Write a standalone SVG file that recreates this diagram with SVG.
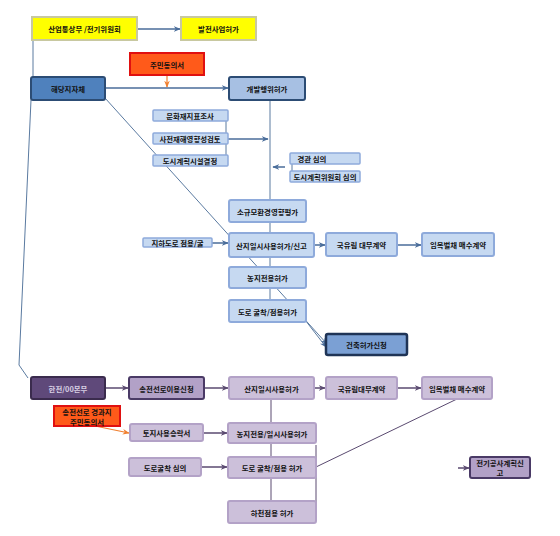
<svg xmlns="http://www.w3.org/2000/svg" width="560" height="536" viewBox="0 0 560 536">
<defs>
<style>
text{font-family:"Noto Sans CJK KR","Noto Sans",sans-serif;font-size:7.4px;font-weight:bold;fill:#111;text-anchor:middle;dominant-baseline:central}
.yel{fill:#ffff00;stroke:#c8c8a0;stroke-width:2}
.org{fill:#ff5a1a;stroke:#e01010;stroke-width:2}
.lb{fill:#c6d9f1;stroke:#8eaadb;stroke-width:2}
.sb{fill:#c6d9f1;stroke:#8eaadb;stroke-width:1.5}
.db{fill:#4f81bd;stroke:#2c4c74;stroke-width:2}
.mb{fill:#a7c0e3;stroke:#2c4c74;stroke-width:2}
.bb{fill:#7ba0d4;stroke:#1f3456;stroke-width:2.5}
.lp{fill:#ccc0da;stroke:#b3a2c7;stroke-width:2}
.mp{fill:#b2a1c7;stroke:#4a3a66;stroke-width:2}
.dp{fill:#5f497a;stroke:#3a2b4d;stroke-width:2}
.ln{fill:none;stroke:#5a7aa0;stroke-width:1}
.lnb{fill:none;stroke:#4a6d9a;stroke-width:1.5}
.lnp{fill:none;stroke:#5a4a70;stroke-width:1.5}
.lnpt{fill:none;stroke:#5a4a70;stroke-width:1}
.lno{fill:none;stroke:#f08030;stroke-width:1.2}
</style>
<marker id="ab" viewBox="0 0 10 10" refX="9" refY="5" markerWidth="7" markerHeight="7" orient="auto" markerUnits="userSpaceOnUse"><path d="M0,1 L10,5 L0,9 L3,5 z" fill="#4a6d9a"/></marker>
<marker id="ap" viewBox="0 0 10 10" refX="9" refY="5" markerWidth="7" markerHeight="7" orient="auto" markerUnits="userSpaceOnUse"><path d="M0,1 L10,5 L0,9 L3,5 z" fill="#5a4a70"/></marker>
<marker id="ao" viewBox="0 0 10 10" refX="9" refY="5" markerWidth="7" markerHeight="7" orient="auto" markerUnits="userSpaceOnUse"><path d="M0,1 L10,5 L0,9 L3,5 z" fill="#f08030"/></marker>
</defs>

<g id="connectors">
<path class="lnb" d="M137,29 H180" marker-end="url(#ab)"/>
<path class="lno" d="M167,75 V87" marker-end="url(#ao)"/>
<path class="lnb" d="M105,88 H228" marker-end="url(#ab)"/>
<path class="ln" d="M33,40 V77"/>
<path class="ln" d="M31,100 L19,365 L28,378"/>
<path class="ln" d="M270,100 V300"/>
<path class="ln" d="M226,116 V161"/>
<path class="lnb" d="M228,139 H268" marker-end="url(#ab)"/>
<path class="ln" d="M292,158 V177"/>
<path class="lnb" d="M285,167 H273" marker-end="url(#ab)"/>
<path class="lnb" d="M212,243 H228" marker-end="url(#ab)"/>
<path class="lnb" d="M314,245 H325" marker-end="url(#ab)"/>
<path class="lnb" d="M397,245 H421" marker-end="url(#ab)"/>
<path class="ln" d="M105,98 L327,344" marker-end="url(#ab)"/>
<path class="ln" d="M302,316 L326,347" marker-end="url(#ab)"/>
<path class="lnp" d="M105,388 H128" marker-end="url(#ap)"/>
<path class="lnp" d="M204,388 H228" marker-end="url(#ap)"/>
<path class="lnp" d="M314,388 H325" marker-end="url(#ap)"/>
<path class="lnp" d="M397,388 H421" marker-end="url(#ap)"/>
<path class="lno" d="M95,426 L129,433" marker-end="url(#ao)"/>
<path class="lnp" d="M203,433 H227" marker-end="url(#ap)"/>
<path class="lnp" d="M201,467 H227" marker-end="url(#ap)"/>
<path class="lnpt" d="M271,399 V501"/>
<path class="lnpt" d="M316,445 V505"/>
<path class="lnpt" d="M457,399 L316,467"/>
<path class="lnp" d="M458,468 H469" marker-end="url(#ap)"/>
</g>

<g id="n1"><rect class="yel" x="32" y="17" width="105" height="23"/><text x="84.5" y="28.5">산업통상부 /전기위원회</text></g>
<g id="n2"><rect class="yel" x="181" y="17" width="75" height="23"/><text x="218.5" y="28.5">발전사업허가</text></g>
<g id="n3"><rect class="org" x="130" y="53" width="74" height="22"/><text x="167" y="64">주민동의서</text></g>
<g id="n4"><rect class="db" x="31" y="77" width="74" height="23" rx="2"/><text x="68" y="88.5">해당지자체</text></g>
<g id="n5"><rect class="mb" x="229" y="77" width="76" height="23" rx="2"/><text x="267" y="88.5">개발행위허가</text></g>
<g id="n6"><rect class="sb" x="153" y="110" width="75" height="11" rx="1"/><text x="190" y="115.5" font-size="6">문화재지표조사</text></g>
<g id="n7"><rect class="sb" x="153" y="133" width="75" height="11" rx="1"/><text x="190" y="138.5" font-size="6">사전재해영향성검토</text></g>
<g id="n8"><rect class="sb" x="153" y="155" width="75" height="11" rx="1"/><text x="190" y="160.5" font-size="6">도시계획시설결정</text></g>
<g id="n9"><rect class="sb" x="290" y="153" width="70" height="11" rx="1"/><text x="312" y="158.5" font-size="6">경관 심의</text></g>
<g id="n10"><rect class="sb" x="290" y="171" width="70" height="11" rx="1"/><text x="325" y="176.5" font-size="6">도시계획위원회 심의</text></g>
<g id="n11"><rect class="lb" x="229" y="200" width="77" height="22" rx="2"/><text x="267.5" y="211">소규모환경영향평가</text></g>
<g id="n12"><rect class="lb" x="229" y="233" width="85" height="24" rx="2" stroke-width="2.5"/><text x="271.5" y="245">산지일시사용허가/신고</text></g>
<g id="n13"><rect class="sb" x="143" y="238" width="69" height="9" rx="1"/><text x="177.5" y="242.5" font-size="6">지하도로 점용/굴</text></g>
<g id="n14"><rect class="lb" x="326" y="233" width="71" height="23" rx="2"/><text x="361.5" y="244.5">국유림 대부계약</text></g>
<g id="n15"><rect class="lb" x="422" y="233" width="72" height="23" rx="2"/><text x="458" y="244.5">임목벌채 매수계약</text></g>
<g id="n16"><rect class="lb" x="229" y="267" width="77" height="21" rx="2"/><text x="267.5" y="277.5">농지전용허가</text></g>
<g id="n17"><rect class="lb" x="229" y="300" width="77" height="22" rx="2"/><text x="267.5" y="311">도로 굴착/점용허가</text></g>
<g id="n18"><rect class="bb" x="326" y="334" width="81" height="21" rx="2"/><text x="366.5" y="344.5">건축허가신청</text></g>
<g id="n19"><rect class="dp" x="31" y="377" width="74" height="22" rx="2"/><text x="68" y="388" style="fill:#d8d0e4">한전/00본부</text></g>
<g id="n20"><rect class="mp" x="129" y="377" width="75" height="22" rx="2"/><text x="166.5" y="388">송전선로이용신청</text></g>
<g id="n21"><rect class="lp" x="229" y="377" width="85" height="22" rx="2"/><text x="271.5" y="388">산지일시사용허가</text></g>
<g id="n22"><rect class="lp" x="326" y="377" width="71" height="22" rx="2"/><text x="361.5" y="388">국유림대부계약</text></g>
<g id="n23"><rect class="lp" x="422" y="377" width="70" height="22" rx="2"/><text x="457" y="388">임목벌채 매수계약</text></g>
<g id="n24"><rect class="org" x="54" y="406" width="66" height="20"/><text x="87" y="411" font-size="6.5">송전선로 경과지</text><text x="87" y="421" font-size="6.5">주민동의서</text></g>
<g id="n25"><rect class="lp" x="130" y="424" width="73" height="17" rx="2"/><text x="166.5" y="432.5">토지사용승락서</text></g>
<g id="n26"><rect class="lp" x="228" y="423" width="88" height="20" rx="2"/><text x="272" y="433">농지전용/일시사용허가</text></g>
<g id="n27"><rect class="lp" x="129" y="458" width="72" height="18" rx="2"/><text x="165" y="467">도로굴착 심의</text></g>
<g id="n28"><rect class="lp" x="228" y="457" width="88" height="21" rx="2"/><text x="272" y="467.5">도로 굴착/점용 허가</text></g>
<g id="n29"><rect class="lp" x="228" y="501" width="88" height="22" rx="2"/><text x="272" y="512">하천점용 허가</text></g>
<g id="n30"><rect class="mp" x="470" y="457" width="60" height="21" rx="2"/><text x="500" y="462.5" font-size="7">전기공사계획신</text><text x="500" y="472.5" font-size="7">고</text></g>
</svg>
